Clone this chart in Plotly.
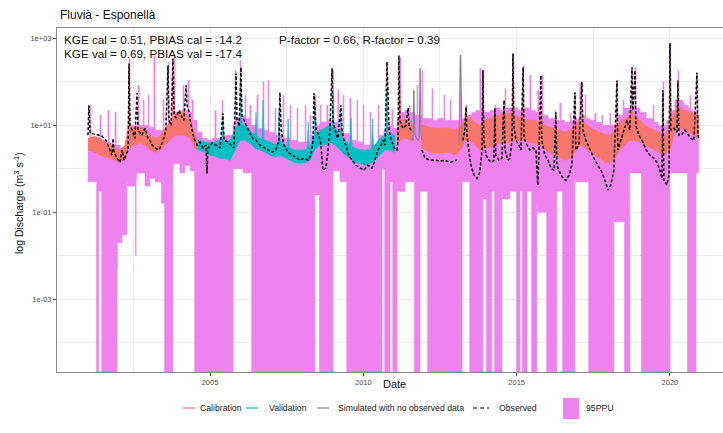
import plotly.graph_objects as go

# ---------------------------------------------------------------------------
# Daily discharge, Fluvià at Esponellà (decimal year, m3/s)
# ---------------------------------------------------------------------------

# 95PPU band, upper bound
PPU_UPPER = [
    (2001.02, 4.5), (2001.09, 29), (2001.12, 4.5), (2001.28, 4.5), (2001.41, 17), (2001.45, 4.5),
    (2001.58, 4.1), (2001.67, 22), (2001.71, 3.9), (2001.84, 3.5), (2001.90, 20), (2001.94, 3.5),
    (2002.07, 3.0), (2002.23, 4.5), (2002.29, 7.7), (2002.36, 345), (2002.39, 10), (2002.52, 10),
    (2002.65, 83), (2002.69, 10), (2002.82, 38), (2002.85, 10), (2002.98, 49), (2003.01, 9.0),
    (2003.17, 406), (2003.21, 7.7), (2003.34, 7.7), (2003.47, 38), (2003.50, 8.5), (2003.63, 280),
    (2003.66, 13), (2003.76, 14.4), (2003.83, 406), (2003.86, 20), (2004.02, 22), (2004.12, 83),
    (2004.15, 22), (2004.28, 108), (2004.32, 20), (2004.41, 38), (2004.45, 13), (2004.58, 6.9),
    (2004.74, 5.0), (2004.90, 4.5), (2005.07, 5.0), (2005.16, 22), (2005.20, 5.0), (2005.39, 38),
    (2005.42, 5.9), (2005.59, 5.9), (2005.75, 10), (2005.82, 184), (2005.85, 14.4), (2005.98, 312),
    (2006.01, 17), (2006.14, 49), (2006.17, 14.4), (2006.30, 29), (2006.34, 10), (2006.53, 49),
    (2006.57, 8.5), (2006.73, 100), (2006.76, 7.7), (2006.89, 108), (2006.92, 6.9), (2007.12, 25),
    (2007.15, 5.9), (2007.38, 49), (2007.41, 5.0), (2007.61, 29), (2007.64, 4.5), (2007.84, 25),
    (2007.87, 4.1), (2008.10, 29), (2008.13, 4.1), (2008.26, 17), (2008.29, 5.9), (2008.42, 49),
    (2008.46, 10), (2008.59, 29), (2008.62, 11.7), (2008.81, 29), (2008.85, 13), (2009.01, 184),
    (2009.04, 11.7), (2009.17, 64), (2009.21, 8.5), (2009.34, 49), (2009.37, 6.5), (2009.56, 42),
    (2009.60, 4.5), (2009.79, 38), (2009.82, 4.1), (2009.99, 29), (2010.02, 3.5), (2010.22, 20),
    (2010.25, 3.5), (2010.48, 29), (2010.51, 5.9), (2010.67, 7.7), (2010.77, 280), (2010.80, 10),
    (2010.93, 22), (2010.97, 8.5), (2011.10, 13), (2011.19, 360), (2011.23, 20), (2011.36, 22),
    (2011.49, 29), (2011.52, 20), (2011.68, 17), (2011.75, 83), (2011.78, 17), (2011.91, 184),
    (2011.94, 14.4), (2012.11, 14.4), (2012.24, 70), (2012.27, 13), (2012.43, 14.4), (2012.63, 49),
    (2012.66, 13), (2012.83, 38), (2012.86, 13), (2012.99, 13), (2013.15, 406), (2013.19, 14.4),
    (2013.35, 29), (2013.38, 17), (2013.54, 20), (2013.67, 22), (2013.80, 205), (2013.84, 22),
    (2013.90, 184), (2013.93, 20), (2014.13, 22), (2014.29, 29), (2014.32, 25), (2014.46, 22),
    (2014.62, 70), (2014.65, 25), (2014.78, 25), (2014.88, 450), (2014.91, 25), (2015.04, 22),
    (2015.21, 239), (2015.24, 25), (2015.43, 141), (2015.47, 22), (2015.60, 20), (2015.69, 64),
    (2015.73, 20), (2015.82, 141), (2015.86, 17), (2016.02, 14.4), (2016.25, 22), (2016.28, 13),
    (2016.41, 32), (2016.45, 13), (2016.57, 11.7), (2016.74, 19), (2016.77, 13), (2016.90, 57),
    (2016.93, 14.4), (2017.06, 92), (2017.10, 17), (2017.23, 49), (2017.26, 14.4), (2017.39, 13),
    (2017.55, 19), (2017.59, 11.7), (2017.78, 17), (2017.81, 10), (2018.04, 19), (2018.07, 10),
    (2018.27, 108), (2018.30, 17), (2018.47, 38), (2018.50, 25), (2018.63, 25), (2018.76, 215),
    (2018.79, 29), (2018.86, 215), (2018.89, 25), (2019.02, 20), (2019.22, 14.4), (2019.45, 29),
    (2019.48, 11.7), (2019.61, 10), (2019.77, 100), (2019.80, 10), (2019.90, 13), (2020.00, 770),
    (2020.03, 22), (2020.16, 38), (2020.26, 184), (2020.29, 38), (2020.42, 34), (2020.45, 29),
    (2020.59, 25), (2020.65, 49), (2020.68, 22), (2020.81, 20), (2020.88, 120), (2020.91, 17),
    (2020.94, 14.4),
]

# 95PPU band, lower bound (1e-5 = lower bound collapses to ~0)
PPU_LOWER = [
    (2001.02, 0.6), (2001.30, 0.5), (2001.32, 1e-5), (2001.37, 1e-5), (2001.38, 0.35), (2001.47, 0.3),
    (2001.48, 1e-5), (2001.97, 1e-5), (2001.98, 0.005), (2002.13, 0.02), (2002.29, 0.03), (2002.30, 0.5),
    (2002.57, 0.4), (2002.59, 0.01), (2002.61, 0.6), (2002.88, 0.8), (2003.04, 0.4), (2003.21, 0.6),
    (2003.42, 0.5), (2003.43, 0.16), (2003.52, 0.16), (2003.53, 1e-5), (2003.79, 1e-5), (2003.80, 1.0),
    (2004.02, 1.3), (2004.18, 0.8), (2004.35, 1.2), (2004.50, 0.9), (2004.51, 1e-5), (2005.75, 1e-5),
    (2005.76, 0.9), (2006.08, 1.0), (2006.36, 0.8), (2006.37, 1e-5), (2008.42, 1e-5), (2008.43, 0.3),
    (2008.57, 0.25), (2008.59, 1e-5), (2009.01, 1e-5), (2009.02, 0.6), (2009.24, 0.9), (2009.46, 0.5),
    (2009.47, 1e-5), (2010.61, 1e-5), (2010.62, 1.0), (2010.70, 1.0), (2010.71, 1e-5), (2010.87, 1e-5),
    (2010.88, 0.5), (2010.96, 0.5), (2010.97, 1e-5), (2011.10, 1e-5), (2011.11, 0.4), (2011.36, 0.3),
    (2011.67, 0.5), (2011.68, 1e-5), (2011.85, 1e-5), (2011.86, 0.3), (2012.10, 0.3), (2012.11, 1e-5),
    (2013.22, 1e-5), (2013.23, 0.55), (2013.47, 0.5), (2013.48, 1e-5), (2013.90, 1e-5), (2013.91, 0.2),
    (2014.02, 0.2), (2014.03, 1e-5), (2014.19, 1e-5), (2014.20, 0.3), (2014.28, 0.3), (2014.29, 1e-5),
    (2014.52, 1e-5), (2014.53, 0.3), (2014.78, 0.2), (2015.00, 0.3), (2015.01, 1e-5), (2015.11, 1e-5),
    (2015.12, 0.3), (2015.19, 0.3), (2015.20, 1e-5), (2015.34, 1e-5), (2015.35, 0.3), (2015.49, 0.3),
    (2015.50, 1e-5), (2015.66, 1e-5), (2015.67, 0.15), (2015.98, 0.1), (2015.99, 1e-5), (2016.31, 1e-5),
    (2016.32, 0.3), (2016.50, 0.3), (2016.51, 1e-5), (2016.90, 1e-5), (2016.91, 0.6), (2017.35, 0.5),
    (2017.36, 1e-5), (2018.17, 1e-5), (2018.18, 0.08), (2018.52, 0.06), (2018.53, 1e-5), (2018.69, 1e-5),
    (2018.70, 1.0), (2019.07, 0.8), (2019.08, 1e-5), (2020.00, 1e-5), (2020.01, 0.9), (2020.57, 0.8),
    (2020.58, 1e-5), (2020.85, 1e-5), (2020.86, 0.8), (2020.94, 0.8),
]

# Best simulation, calibration period 1 (daily range: upper / lower envelope)
CAL1_HI = [
    (2001.02, 5.0), (2001.25, 5.6), (2001.41, 5.0), (2001.58, 4.1), (2001.74, 3.5), (2001.90, 3.0),
    (2002.07, 2.7), (2002.23, 3.5), (2002.33, 7.7), (2002.36, 184), (2002.39, 10), (2002.55, 8.5),
    (2002.72, 9.0), (2002.88, 8.5), (2003.04, 5.9), (2003.21, 5.0), (2003.37, 5.6), (2003.53, 8.5),
    (2003.70, 11.7), (2003.76, 12), (2003.79, 141), (2003.82, 15), (2003.86, 17), (2004.02, 20),
    (2004.18, 20), (2004.35, 13), (2004.51, 5.9), (2004.61, 4.5),
]
CAL1_LO = [
    (2001.02, 2.7), (2001.25, 2.4), (2001.41, 2.05), (2001.58, 1.85), (2001.74, 1.75), (2001.90, 1.57),
    (2002.07, 1.4), (2002.23, 1.75), (2002.33, 3.0), (2002.55, 3.5), (2002.72, 3.9), (2002.88, 3.5),
    (2003.04, 2.7), (2003.21, 2.4), (2003.37, 2.7), (2003.53, 3.5), (2003.70, 4.5), (2003.86, 5.9),
    (2004.02, 5.9), (2004.18, 5.9), (2004.35, 5.0), (2004.51, 3.0), (2004.61, 2.7),
]

# Best simulation, validation period
VAL_HI = [
    (2004.61, 4.5), (2004.84, 4.1), (2005.00, 3.9), (2005.16, 4.1), (2005.33, 4.5), (2005.39, 4.4),
    (2005.42, 15), (2005.45, 4.3), (2005.49, 4.1), (2005.65, 4.5), (2005.82, 7.7), (2005.98, 11.7),
    (2006.01, 100), (2006.04, 11), (2006.14, 10), (2006.30, 7.7), (2006.47, 5.9), (2006.50, 20),
    (2006.53, 5.7), (2006.63, 5.0), (2006.70, 4.8), (2006.73, 38), (2006.76, 4.6), (2006.79, 4.5),
    (2006.96, 4.1), (2007.12, 3.5), (2007.22, 4.2), (2007.25, 25), (2007.28, 4.5), (2007.45, 3.5),
    (2007.52, 3.2), (2007.55, 14), (2007.58, 3.1), (2007.61, 3.0), (2007.77, 2.7), (2007.93, 2.7),
    (2008.10, 2.7), (2008.17, 2.9), (2008.20, 12), (2008.23, 3.0), (2008.26, 3.1), (2008.39, 5.5),
    (2008.42, 29), (2008.45, 6.0), (2008.59, 7.7), (2008.75, 8.5), (2008.91, 10), (2008.98, 9.5),
    (2009.01, 57), (2009.04, 9.0), (2009.08, 8.5), (2009.24, 5.9), (2009.27, 25), (2009.30, 5.5),
    (2009.40, 4.5), (2009.56, 3.5), (2009.60, 15), (2009.63, 3.3), (2009.73, 3.0), (2009.89, 2.7),
    (2010.05, 2.7), (2010.22, 2.7), (2010.27, 3.0), (2010.30, 14), (2010.33, 3.2), (2010.38, 3.5),
    (2010.54, 5.0), (2010.71, 5.9), (2010.74, 6.0), (2010.77, 64), (2010.80, 6.2), (2010.87, 6.5),
    (2011.03, 5.9),
]
VAL_LO = [
    (2004.61, 2.7), (2004.84, 2.4), (2005.00, 2.05), (2005.16, 1.95), (2005.33, 1.75), (2005.49, 1.75),
    (2005.65, 1.57), (2005.82, 2.7), (2005.98, 4.5), (2006.14, 4.5), (2006.30, 3.9), (2006.47, 3.0),
    (2006.63, 2.7), (2006.79, 2.4), (2006.96, 2.05), (2007.12, 1.85), (2007.28, 2.05), (2007.45, 1.75),
    (2007.61, 1.57), (2007.77, 1.4), (2007.93, 1.34), (2008.10, 1.4), (2008.26, 1.57), (2008.42, 2.7),
    (2008.59, 3.5), (2008.75, 3.5), (2008.91, 4.1), (2009.08, 3.5), (2009.24, 2.7), (2009.40, 2.05),
    (2009.56, 1.75), (2009.73, 1.4), (2009.89, 1.34), (2010.05, 1.2), (2010.22, 1.34), (2010.38, 1.57),
    (2010.54, 2.05), (2010.71, 2.7), (2010.87, 2.7), (2011.03, 2.4),
]

# Best simulation, calibration period 2 (two stretches around a gap in observations)
CAL2A_HI = [(2011.10, 8.5), (2011.16, 9.0), (2011.19, 90), (2011.22, 12), (2011.36, 14.4),
            (2011.52, 11.7), (2011.59, 10)]
CAL2A_LO = [(2011.10, 3.5), (2011.19, 4.5), (2011.36, 5.0), (2011.52, 4.5), (2011.59, 4.1)]

CAL2B_HI = [
    (2011.91, 10), (2012.01, 10), (2012.17, 9.0), (2012.34, 8.5), (2012.50, 8.5), (2012.66, 8.5),
    (2012.83, 8.5), (2012.99, 7.7), (2013.09, 8.5), (2013.22, 10), (2013.31, 14.4), (2013.35, 29),
    (2013.38, 15), (2013.48, 15), (2013.64, 11.7), (2013.80, 10), (2013.87, 11), (2013.90, 57),
    (2013.93, 12), (2013.97, 13), (2014.13, 14.4), (2014.29, 17), (2014.46, 17), (2014.62, 19),
    (2014.78, 19), (2014.85, 18), (2014.88, 92), (2014.91, 17), (2014.94, 17), (2015.11, 14.4),
    (2015.18, 14), (2015.21, 57), (2015.24, 13.5), (2015.27, 13), (2015.43, 13), (2015.60, 13),
    (2015.76, 11.7), (2015.79, 38), (2015.82, 11), (2015.92, 10), (2016.09, 9.0), (2016.25, 8.5),
    (2016.41, 7.7), (2016.57, 6.9), (2016.74, 7.7), (2016.90, 10), (2017.06, 13), (2017.10, 12.5),
    (2017.13, 38), (2017.16, 12), (2017.23, 11.2), (2017.39, 9.0), (2017.55, 7.7), (2017.72, 6.9),
    (2017.88, 6.2), (2018.04, 5.9), (2018.20, 7.7), (2018.24, 8.5), (2018.27, 29), (2018.30, 9.0),
    (2018.37, 11.2), (2018.53, 14.4), (2018.69, 17), (2018.73, 17), (2018.76, 64), (2018.79, 17),
    (2018.86, 17), (2019.02, 13), (2019.18, 10), (2019.35, 8.5), (2019.51, 7.7), (2019.67, 6.5),
    (2019.84, 5.9), (2019.97, 9.0), (2020.00, 141), (2020.03, 12), (2020.16, 22), (2020.23, 24),
    (2020.26, 57), (2020.29, 25), (2020.32, 25), (2020.49, 22), (2020.65, 20), (2020.81, 19),
    (2020.94, 17),
]
CAL2B_LO = [
    (2011.91, 3.0), (2012.01, 2.7), (2012.17, 2.4), (2012.34, 2.3), (2012.50, 2.3), (2012.66, 2.4),
    (2012.83, 2.3), (2012.99, 2.05), (2013.09, 2.4), (2013.22, 3.0), (2013.31, 4.5), (2013.48, 4.5),
    (2013.64, 3.5), (2013.80, 2.7), (2013.97, 3.0), (2014.13, 3.1), (2014.29, 3.5), (2014.46, 3.9),
    (2014.62, 3.9), (2014.78, 4.1), (2014.94, 4.5), (2015.11, 4.5), (2015.27, 4.5), (2015.43, 4.1),
    (2015.60, 3.9), (2015.76, 3.5), (2015.92, 2.7), (2016.09, 2.4), (2016.25, 2.05), (2016.41, 1.85),
    (2016.57, 1.57), (2016.74, 1.75), (2016.90, 2.4), (2017.06, 3.5), (2017.23, 3.0), (2017.39, 2.4),
    (2017.55, 2.05), (2017.72, 1.75), (2017.88, 1.4), (2018.04, 1.34), (2018.20, 1.75), (2018.37, 2.7),
    (2018.53, 3.5), (2018.69, 4.5), (2018.86, 4.5), (2019.02, 4.1), (2019.18, 3.5), (2019.35, 3.0),
    (2019.51, 2.7), (2019.67, 2.3), (2019.84, 2.05), (2020.00, 2.7), (2020.16, 7.7), (2020.32, 8.5),
    (2020.49, 7.7), (2020.65, 6.9), (2020.81, 5.9), (2020.94, 5.0),
]

# Simulation on days without observations
NOOBS_SIM = [
    (2011.55, 5.0), (2011.62, 4.5), (2011.65, 64), (2011.68, 5.9), (2011.78, 4.5), (2011.82, 5.0),
    (2011.85, 205), (2011.88, 5.9), (2011.91, 4.5), (2012.00, None),
    (2013.12, 3.5), (2013.17, 406), (2013.22, 4.5),
]

# Observed discharge (None = missing record)
OBSERVED = [
    (2001.02, 5.9), (2001.05, 29), (2001.09, 6.5), (2001.28, 6.2), (2001.48, 5.6), (2001.61, 4.5),
    (2001.71, 3.0), (2001.80, 2.05), (2001.84, 5.0), (2001.87, 2.4), (2001.97, 1.75), (2002.07, 1.4),
    (2002.13, 2.7), (2002.20, 1.57), (2002.26, 2.05), (2002.33, 2.7), (2002.36, 265), (2002.39, 10),
    (2002.46, 7.7), (2002.55, 5.0), (2002.62, 55), (2002.65, 7.7), (2002.78, 5.9), (2002.88, 8.5),
    (2002.98, 5.0), (2003.04, 4.5), (2003.11, 3.5), (2003.21, 3.0), (2003.30, 2.7), (2003.37, 3.0),
    (2003.47, 4.5), (2003.56, 7.7), (2003.63, 239), (2003.66, 13), (2003.73, 10), (2003.79, 345),
    (2003.83, 17), (2003.89, 15), (2003.99, 22), (2004.05, 17), (2004.15, 13), (2004.22, 83),
    (2004.25, 29), (2004.32, 20), (2004.38, 10), (2004.48, 5.0), (2004.58, 3.5), (2004.67, 4.1),
    (2004.77, 3.0), (2004.87, 3.5), (2004.90, 0.78), (2004.93, 3.0), (2005.07, 3.9), (2005.20, 3.5),
    (2005.33, 3.0), (2005.42, 19), (2005.46, 4.5), (2005.59, 4.1), (2005.68, 3.5), (2005.78, 3.0),
    (2005.85, 157), (2005.88, 14.4), (2005.95, 9.5), (2006.01, 215), (2006.04, 17), (2006.14, 11.7),
    (2006.24, 8.5), (2006.30, 6.5), (2006.40, 5.0), (2006.50, 4.5), (2006.63, 3.5), (2006.76, 3.0),
    (2006.89, 2.7), (2007.02, 2.4), (2007.15, 2.7), (2007.25, 4.5), (2007.28, 57), (2007.32, 7.7),
    (2007.41, 3.5), (2007.54, 2.4), (2007.67, 2.05), (2007.80, 1.75), (2007.93, 1.57), (2008.06, 1.75),
    (2008.20, 1.57), (2008.29, 2.05), (2008.36, 4.5), (2008.39, 55), (2008.46, 7.7), (2008.55, 5.9),
    (2008.62, 3.5), (2008.68, 0.92), (2008.78, 1.03), (2008.85, 2.7), (2008.91, 7.7), (2008.98, 205),
    (2009.01, 13), (2009.08, 7.7), (2009.17, 5.0), (2009.27, 29), (2009.30, 7.7), (2009.37, 4.5),
    (2009.43, 3.5), (2009.53, 2.05), (2009.63, 1.57), (2009.76, 1.2), (2009.89, 1.03), (2010.02, 0.92),
    (2010.15, 1.2), (2010.28, 1.03), (2010.38, 1.57), (2010.48, 2.7), (2010.58, 3.5), (2010.64, 4.5),
    (2010.71, 3.5), (2010.77, 290), (2010.84, 7.7), (2010.90, 5.0), (2011.00, 3.0), (2011.10, 2.7),
    (2011.13, 4.5), (2011.16, 406), (2011.19, 13), (2011.29, 8.5), (2011.39, 10), (2011.46, 25),
    (2011.49, 10), (2011.55, 7.7), (2011.70, None),
    (2011.91, 2.7), (2012.01, 1.75), (2012.17, 1.57), (2012.34, 1.57), (2012.50, 1.5), (2012.66, 1.57),
    (2012.83, 1.4), (2012.99, 1.57), (2013.05, 1.57), (2013.15, None),
    (2013.25, 4.5), (2013.31, 7.7), (2013.35, 26), (2013.38, 5.9), (2013.44, 2.7), (2013.51, 1.2),
    (2013.61, 0.71), (2013.71, 0.6), (2013.80, 0.83), (2013.87, 2.7), (2013.90, 184), (2013.93, 4.5),
    (2014.00, 2.05), (2014.10, 1.57), (2014.19, 1.4), (2014.26, 1.57), (2014.29, 25), (2014.32, 2.05),
    (2014.42, 1.57), (2014.52, 1.75), (2014.59, 38), (2014.62, 2.7), (2014.72, 1.57), (2014.78, 1.75),
    (2014.85, 4.5), (2014.88, 450), (2014.91, 10), (2014.98, 4.5), (2015.07, 3.5), (2015.14, 2.7),
    (2015.21, 215), (2015.24, 5.0), (2015.34, 3.5), (2015.43, 2.7), (2015.53, 3.0), (2015.63, 2.7),
    (2015.69, 0.42), (2015.73, 2.7), (2015.79, 141), (2015.82, 4.5), (2015.92, 2.05), (2016.02, 1.57),
    (2016.12, 1.03), (2016.22, 0.92), (2016.28, 20), (2016.31, 1.2), (2016.41, 0.83), (2016.51, 0.6),
    (2016.61, 0.54), (2016.71, 0.71), (2016.80, 1.2), (2016.90, 57), (2016.93, 2.7), (2017.03, 3.5),
    (2017.13, 100), (2017.16, 7.7), (2017.26, 4.5), (2017.39, 2.7), (2017.52, 1.75), (2017.65, 1.2),
    (2017.78, 0.83), (2017.88, 0.54), (2017.98, 0.32), (2018.07, 0.42), (2018.17, 0.92), (2018.27, 108),
    (2018.30, 2.7), (2018.40, 4.5), (2018.50, 7.7), (2018.60, 13), (2018.69, 7.7), (2018.76, 215),
    (2018.79, 22), (2018.86, 184), (2018.89, 9.5), (2018.99, 5.9), (2019.09, 4.5), (2019.22, 2.7),
    (2019.35, 2.05), (2019.48, 1.75), (2019.57, 1.4), (2019.67, 0.92), (2019.74, 0.6), (2019.77, 64),
    (2019.80, 0.54), (2019.90, 0.42), (2019.97, 0.71), (2020.00, 770), (2020.03, 7.7), (2020.13, 8.5),
    (2020.23, 6.9), (2020.26, 108), (2020.29, 5.9), (2020.39, 6.2), (2020.49, 7.7), (2020.59, 5.9),
    (2020.68, 5.0), (2020.78, 4.5), (2020.88, 165), (2020.91, 5.9), (2020.94, 5.0),
]

TITLE = "Fluvià - Esponellà"
STATS_CAL = "KGE cal = 0.51, PBIAS cal = -14.2"
STATS_VAL = "KGE val = 0.69, PBIAS val = -17.4"
STATS_PPU = "P-factor = 0.66, R-factor = 0.39"
X_TICKS = [2005, 2010, 2015, 2020]
X_MINOR = [2002.5, 2007.5, 2012.5, 2017.5]
Y_TICKS = [1e-3, 1e-1, 1e1, 1e3]
Y_TICK_TEXT = ["1e-03", "1e-01", "1e+01", "1e+03"]
Y_MINOR = [1e-4, 1e-2, 1e0, 1e2]

VIOLET = "#EE82EE"
CAL_COL = "#F8766D"
VAL_COL = "#00BFC4"
NOOBS_COL = "#808080"
FONT = "Liberation Sans, Arial, sans-serif"


def split(pairs):
    t = [p[0] for p in pairs]
    q = [p[1] for p in pairs]
    return t, q


def ribbon(upper, lower, color, shape="linear"):
    tu, qu = split(upper)
    tl, ql = split(lower)
    return go.Scatter(
        x=tu + tl[::-1], y=qu + ql[::-1], mode="lines", fill="toself",
        fillcolor=color, line=dict(color=color, width=0.6, shape=shape),
        hoverinfo="skip", showlegend=False,
    )


fig = go.Figure()
fig.add_trace(ribbon(PPU_UPPER, PPU_LOWER, VIOLET, shape="hv"))
fig.add_trace(ribbon(CAL1_HI, CAL1_LO, CAL_COL))
fig.add_trace(ribbon(VAL_HI, VAL_LO, VAL_COL))
fig.add_trace(ribbon(CAL2A_HI, CAL2A_LO, CAL_COL))
fig.add_trace(ribbon(CAL2B_HI, CAL2B_LO, CAL_COL))

t, q = split(NOOBS_SIM)
fig.add_trace(go.Scatter(x=t, y=q, mode="lines", line=dict(color=NOOBS_COL, width=1.0),
                         hoverinfo="skip", showlegend=False))
t, q = split(OBSERVED)
fig.add_trace(go.Scatter(x=t, y=q, mode="lines",
                         line=dict(color="black", width=1.5, dash="3px,2px"),
                         hoverinfo="skip", showlegend=False))

# plot-area geometry (pixels) used to place the legend and labels
L, T, W, H = 57, 28, 666, 344


def px(x):
    return (x - L) / W


def py(y):
    return 1 - (y - T) / H


grid = "#EBEBEB"
fig.update_layout(
    width=723, height=433,
    margin=dict(l=L, r=723 - L - W, t=T, b=433 - T - H),
    paper_bgcolor="white", plot_bgcolor="white",
    showlegend=False,
    font=dict(family=FONT, color="#222"),
    xaxis=dict(
        range=[2000.01, 2021.73], tickmode="array", tickvals=X_TICKS,
        ticktext=[str(v) for v in X_TICKS],
        showgrid=True, gridcolor=grid, gridwidth=1,
        minor=dict(tickmode="array", tickvals=X_MINOR, showgrid=True, gridcolor=grid,
                   gridwidth=0.6, ticks=""),
        ticks="outside", ticklen=3, tickcolor="#555", tickwidth=1,
        tickfont=dict(size=7.5, color="#4D4D4D"),
        showline=True, linecolor="#8A8A8A", linewidth=1, mirror=True,
        zeroline=False, automargin=False,
    ),
    yaxis=dict(
        type="log", range=[-4.68, 3.24], tickmode="array", tickvals=Y_TICKS,
        ticktext=Y_TICK_TEXT,
        showgrid=True, gridcolor=grid, gridwidth=1,
        minor=dict(tickmode="array", tickvals=Y_MINOR, showgrid=True, gridcolor=grid,
                   gridwidth=0.6, ticks=""),
        ticks="outside", ticklen=3, tickcolor="#555", tickwidth=1,
        tickfont=dict(size=7.5, color="#4D4D4D"),
        showline=True, linecolor="#8A8A8A", linewidth=1, mirror=False,
        zeroline=False, automargin=False,
    ),
)

ann = []
ann.append(dict(x=px(58), y=py(15), text=TITLE, xanchor="left", yanchor="middle",
                font=dict(size=12, color="#111")))
ann.append(dict(x=px(62), y=py(39.5), text=STATS_CAL, xanchor="left", yanchor="middle",
                font=dict(size=11.7, color="#111")))
ann.append(dict(x=px(62), y=py(53.3), text=STATS_VAL, xanchor="left", yanchor="middle",
                font=dict(size=11.7, color="#111")))
ann.append(dict(x=px(277), y=py(39.5), text=STATS_PPU, xanchor="left", yanchor="middle",
                font=dict(size=11.7, color="#111")))
ann.append(dict(x=px(394), y=py(384), text="Date", xanchor="center", yanchor="middle",
                font=dict(size=11, color="#111")))
ann.append(dict(x=px(18), y=py(203), text="log Discharge (m<sup>3</sup> s<sup>-1</sup>)",
                textangle=-90, xanchor="center", yanchor="middle",
                font=dict(size=10.5, color="#111")))

# legend
shapes = []
leg_y = 408
line_keys = [
    (183, 195, CAL_COL, "solid", "Calibration", 198),
    (246, 258, VAL_COL, "solid", "Validation", 267),
    (317, 329, NOOBS_COL, "solid", "Simulated with no observed data", 336),
    (473, 489, "black", "4px,3px", "Observed", 497),
]
for x0, x1, col, dash, label, xt in line_keys:
    shapes.append(dict(type="line", xref="paper", yref="paper", x0=px(x0), x1=px(x1),
                       y0=py(leg_y), y1=py(leg_y), line=dict(color=col, width=1.2, dash=dash)))
    ann.append(dict(x=px(xt), y=py(leg_y), text=label, xanchor="left", yanchor="middle",
                    font=dict(size=8.7, color="#222")))
shapes.append(dict(type="rect", xref="paper", yref="paper", x0=px(563), x1=px(579),
                   y0=py(419), y1=py(398), fillcolor=VIOLET, line=dict(width=0)))
ann.append(dict(x=px(584), y=py(leg_y), text="95PPU", xanchor="left", yanchor="middle",
                font=dict(size=8.7, color="#222")))

for a in ann:
    a.update(xref="paper", yref="paper", showarrow=False)
fig.update_layout(annotations=ann, shapes=shapes)

fig.write_html("out.html")
